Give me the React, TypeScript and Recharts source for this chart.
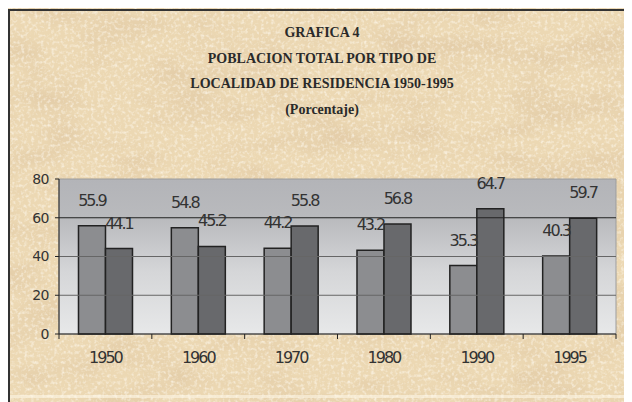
import React from "react"
import { Bar, BarChart, XAxis, YAxis, LabelList, ReferenceArea, ReferenceLine } from "recharts"

const years = ["1950", "1960", "1970", "1980", "1990", "1995"]
const rural = [55.9, 54.8, 44.2, 43.2, 35.3, 40.3]
const urbana = [44.1, 45.2, 55.8, 56.8, 64.7, 59.7]
const yTicks = [0, 20, 40, 60, 80]
const lightGrid = [20, 40]
const darkGrid = [60]
const titleLines = [
    "GRAFICA 4",
    "POBLACION TOTAL POR TIPO DE",
    "LOCALIDAD DE RESIDENCIA 1950-1995",
    "(Porcentaje)",
]

const data = years.map((year, i) => ({ year, rural: rural[i], urbana: urbana[i] }))

const W = 624
const H = 394
const labelFont = "'DejaVu Sans', sans-serif"
const labelStyle = { letterSpacing: "-2px" }

function YearTick(props: any) {
    const { x, y, payload, index, visibleTicksCount } = props
    const off = payload && payload.offset != null ? payload.offset : 46
    const top = y - 18
    const last = index === visibleTicksCount - 1
    return (
        <g>
            <line x1={x - off} x2={x - off} y1={top} y2={top + 5} stroke="#222" />
            {last && <line x1={x + off} x2={x + off} y1={top} y2={top + 5} stroke="#222" />}
            <text x={x} y={y} dy="0.71em" textAnchor="middle" fill="#333"
                fontFamily={labelFont} fontSize={16} style={labelStyle}>
                {payload.value}
            </text>
        </g>
    )
}

function Parchment() {
    return (
        <svg width={W} height={H} style={{ position: "absolute", left: 0, top: 0 }}>
            <defs>
                <filter id="parchBlotch" x="0" y="0" width="100%" height="100%">
                    <feTurbulence type="fractalNoise" baseFrequency="0.014 0.035" numOctaves={4} seed={7} />
                    <feColorMatrix type="matrix"
                        values="0 0 0 0 0.78  0 0 0 0 0.62  0 0 0 0 0.40  0 0 0 2.6 -1.1" />
                </filter>
                <filter id="parchGrain" x="0" y="0" width="100%" height="100%">
                    <feTurbulence type="fractalNoise" baseFrequency="0.3" numOctaves={2} seed={2} />
                    <feColorMatrix type="matrix"
                        values="0 0 0 0 1  0 0 0 0 0.97  0 0 0 0 0.9  0 0 0 1.6 -0.75" />
                </filter>
            </defs>
            <rect width={W} height={H} fill="#ecd8b3" />
            <rect width={W} height={H} filter="url(#parchBlotch)" />
            <rect width={W} height={H} filter="url(#parchGrain)" />
        </svg>
    )
}

export default function App() {
    return (
        <div style={{ position: "relative", width: W, height: H, overflow: "hidden" }}>
            <Parchment />
            <div style={{ position: "absolute", left: 0, top: 1, width: W, height: 2, background: "#333" }} />
            <div style={{ position: "absolute", left: 0, top: 1, width: 2, height: H, background: "#333" }} />
            <div style={{ position: "absolute", left: 2, top: 387, width: W, height: 3, background: "rgba(255,250,235,0.55)" }} />
            {titleLines.map((t, i) => (
                <div key={i} style={{
                    position: "absolute", left: 0, width: 628, top: 17 + i * 25.5, height: 16,
                    lineHeight: "16px", textAlign: "center", fontFamily: "'Liberation Serif', serif",
                    fontWeight: "bold", fontSize: 14, color: "#2a2a2a",
                }}>{t}</div>
            ))}
            <div style={{ position: "absolute", left: 0, top: 0 }}>
                <BarChart width={W} height={H} data={data}
                    margin={{ top: 171, right: 16, bottom: 38, left: 0 }}
                    barCategoryGap="21%" barGap={0}>
                    <defs>
                        <linearGradient id="plotBg" x1="0" y1="0" x2="0" y2="1">
                            <stop offset="0%" stopColor="#b3b4b8" />
                            <stop offset="25%" stopColor="#b9babd" />
                            <stop offset="60%" stopColor="#d5d6d8" />
                            <stop offset="100%" stopColor="#e7e8e9" />
                        </linearGradient>
                    </defs>
                    <ReferenceArea y1={0} y2={80} fill="url(#plotBg)" fillOpacity={1}
                        stroke="#9c9c9c" strokeWidth={1} ifOverflow="visible" />
                    {lightGrid.map((v) => (
                        <ReferenceLine key={v} y={v} stroke="#666" strokeWidth={1} />
                    ))}
                    {darkGrid.map((v) => (
                        <ReferenceLine key={v} y={v} stroke="#222" strokeWidth={1.2} />
                    ))}
                    <XAxis dataKey="year" height={30} interval={0}
                        axisLine={{ stroke: "#222" }} tickLine={false}
                        tickSize={5} tickMargin={13} tick={<YearTick />} />
                    <YAxis domain={[0, 80]} ticks={yTicks} width={51}
                        axisLine={{ stroke: "#222" }} tickLine={{ stroke: "#222" }}
                        tickSize={4} tickMargin={6}
                        tick={{ fill: "#333", fontSize: 14, fontFamily: "'DejaVu Sans', sans-serif", style: { letterSpacing: "-0.5px" } }} />
                    <Bar dataKey="rural" name="Rural" fill="#8c8d90" stroke="#222" strokeWidth={1.5}
                        isAnimationActive={false}>
                        <LabelList dataKey="rural" position="top" offset={20} fill="#333"
                            fontSize={16} fontFamily={labelFont} style={labelStyle} />
                    </Bar>
                    <Bar dataKey="urbana" name="Urbana" fill="#68696c" stroke="#222" strokeWidth={1.5}
                        isAnimationActive={false}>
                        <LabelList dataKey="urbana" position="top" offset={20} fill="#333"
                            fontSize={16} fontFamily={labelFont} style={labelStyle} />
                    </Bar>
                </BarChart>
            </div>
        </div>
    )
}
